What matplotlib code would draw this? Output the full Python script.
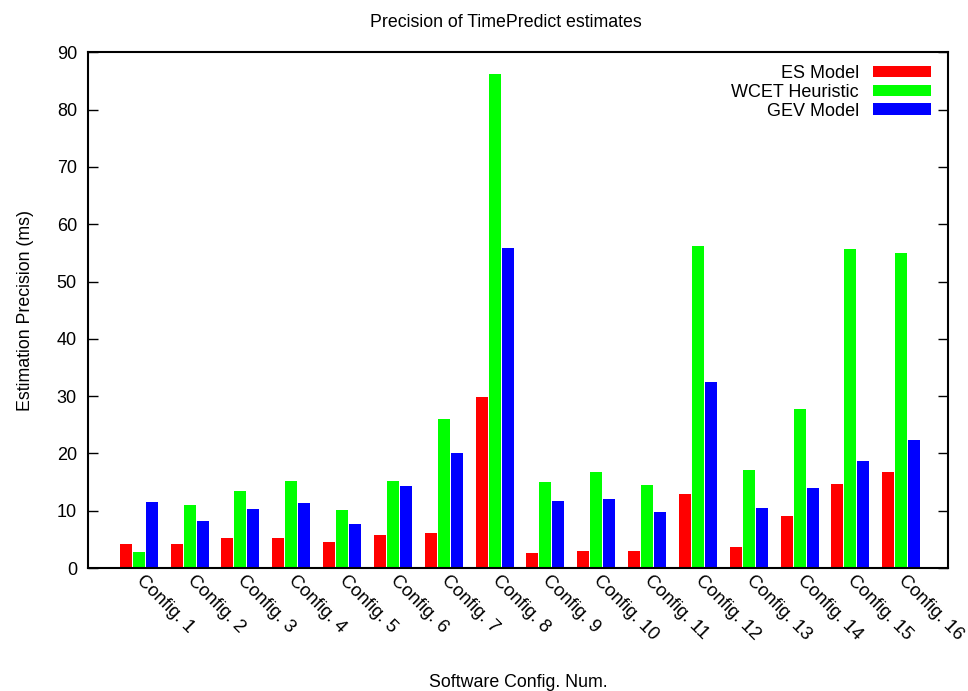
import numpy as np
import matplotlib.pyplot as plt
import matplotlib.transforms as mtransforms

# 各設定的估計精度 (ms)
configs = [f'Config. {i}' for i in range(1, 17)]
es_model = [4.2, 4.2, 5.3, 5.3, 4.6, 5.8, 6.1, 29.9, 2.7, 3.0, 3.0, 13.0, 3.7, 9.1, 14.7, 16.8]
wcet_heuristic = [2.8, 11.0, 13.4, 15.2, 10.2, 15.2, 26.0, 86.3, 15.0, 16.8, 14.4, 56.2, 17.1, 27.8, 55.6, 55.0]
gev_model = [11.6, 8.2, 10.3, 11.4, 7.7, 14.3, 20.1, 55.8, 11.7, 12.1, 9.8, 32.5, 10.5, 14.0, 18.7, 22.4]

plt.rcParams['font.family'] = ['Liberation Sans', 'DejaVu Sans']

fig = plt.figure(figsize=(9.68, 6.91), dpi=100)
ax = fig.add_axes([0.0909, 0.178, 0.8884, 0.7463])

x = np.arange(len(configs))
pitch = 0.256
w = 0.236
ax.bar(x - pitch, es_model, w, color='#ff0000', label='ES Model')
ax.bar(x, wcet_heuristic, w, color='#00ff00', label='WCET Heuristic')
ax.bar(x + pitch, gev_model, w, color='#0000ff', label='GEV Model')

ax.set_xlim(-1.0, 15.92)
ax.set_ylim(0, 90)
ax.set_yticks(range(0, 91, 10))
ax.set_xticks(x)
ax.set_xticklabels(configs, rotation=-45, ha='left', va='top',
                   rotation_mode='anchor', fontsize=13.3)
ax.tick_params(axis='x', length=0, pad=3)
# 稍微往右移一點，跟原圖對齊
shift = mtransforms.ScaledTranslation(6 / 100, 0, fig.dpi_scale_trans)
for lbl in ax.get_xticklabels():
    lbl.set_transform(lbl.get_transform() + shift)
ax.tick_params(axis='y', direction='in', right=True, length=7, width=1,
               labelsize=13, pad=8)
for s in ax.spines.values():
    s.set_linewidth(1.5)

ax.set_title('Precision of TimePredict estimates', fontsize=12.8, pad=18, x=0.486)
ax.set_xlabel('Software Config. Num.', fontsize=12.8, labelpad=22)
ax.set_ylabel('Estimation Precision (ms)', fontsize=12.8, labelpad=16)

ax.legend(loc='upper right', frameon=False, markerfirst=False, fontsize=13,
          handlelength=3.2, handleheight=0.6, labelspacing=0.1,
          handletextpad=0.8, borderaxespad=0.3, bbox_to_anchor=(0.995, 1.0))

fig.savefig('out.png', dpi=100)
